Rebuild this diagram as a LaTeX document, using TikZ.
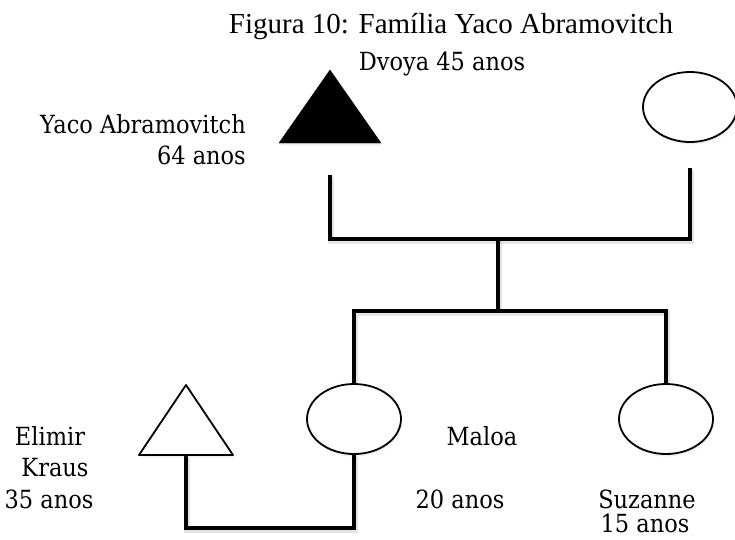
\documentclass[tikz,border=0pt]{standalone}
\usepackage{fontspec}
\setmainfont{Liberation Serif}
\newfontfamily\lblfont[FakeStretch=0.9]{DejaVu Serif}
\usetikzlibrary{shapes.geometric,shadows}
\begin{document}
\begin{tikzpicture}[x=1pt,y=-1pt,
  bond/.style={line width=4.8pt, line join=miter,
    preaction={draw=black, opacity=0.1, line width=6pt,
      transform canvas={xshift=0.8pt,yshift=-2.2pt}}},
  female/.style={ellipse, draw, line width=1.8pt, fill=white,
    minimum width=94pt, minimum height=70pt, inner sep=0pt,
    drop shadow={opacity=0.12, shadow xshift=0.8pt, shadow yshift=-2.5pt}},
  maleopen/.style={draw, line width=1.8pt, line join=round, fill=white,
    drop shadow={opacity=0.12, shadow xshift=0.8pt, shadow yshift=-2.5pt}},
  malefull/.style={fill=black,
    drop shadow={opacity=0.12, shadow xshift=0.8pt, shadow yshift=-2.5pt}},
  lbl/.style={font=\lblfont\fontsize{25}{31}\selectfont, inner sep=0pt, anchor=base},
  caption/.style={font=\fontsize{29}{34}\selectfont, inner sep=0pt, anchor=base}]
\useasboundingbox (0,0) rectangle (735,539);

% title
\node[caption] (title) at (451,33) {Figura 10: Família Yaco Abramovitch};

% anchor points of the connector lines
\coordinate (yacoDrop) at (330,175);
\coordinate (dvoyaDrop) at (690,168);
\coordinate (couple) at (498,239);
\coordinate (sibs) at (498,311);
\coordinate (wed) at (270,528);
\coordinate (eliFoot) at (186,456);

% parents
\draw[malefull] (330,70) -- (381,143) -- (279,143) -- cycle;
\node[female] (dvoya) at (690,107) {};
\node[lbl] (dvoyaname) at (442,70) {Dvoya 45 anos};
\node[lbl, anchor=base east] (yaconame) at (246,133) {Yaco Abramovitch};
\node[lbl, anchor=base east] (yacoage) at (246,164) {64 anos};

% children
\node[female] (maloa) at (354,419) {};
\node[female] (suzanne) at (666,419) {};

\draw[bond] (yacoDrop) -- (yacoDrop |- couple) -- (dvoyaDrop |- couple) -- (dvoyaDrop);
\draw[bond] (couple) -- (sibs);
\draw[bond] (maloa.north) |- (sibs) -| (suzanne.north);
\draw[bond] (eliFoot) |- (wed) -| (maloa.south);

% son-in-law
\draw[maleopen] (186,385) -- (233,455) -- (139,455) -- cycle;

% labels
\node[lbl] (eli1) at (50,445) {Elimir};
\node[lbl] (eli2) at (55,476) {Kraus};
\node[lbl] (eli3) at (49,508) {35 anos};
\node[lbl] (mal1) at (482,445) {Maloa};
\node[lbl] (mal2) at (460,508) {20 anos};
\node[lbl] (suz1) at (647,508) {Suzanne};
\node[lbl] (suz2) at (645,532) {15 anos};
\end{tikzpicture}
\end{document}
